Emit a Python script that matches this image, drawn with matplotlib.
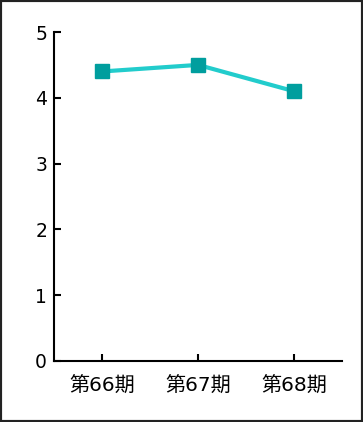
import matplotlib
matplotlib.use('Agg')
import matplotlib.pyplot as plt
from matplotlib.patches import Rectangle

periods = ["第66期", "第67期", "第68期"]
values = [4.4, 4.5, 4.1]
y_ticks = [0, 1, 2, 3, 4, 5]

plt.rcParams['font.family'] = ['DejaVu Sans', 'Noto Sans CJK JP']

fig = plt.figure(figsize=(3.63, 4.22), dpi=100)
ax = fig.add_axes([54/363, 1 - 361/422, 288/363, 329/422])

x = list(range(len(periods)))
ax.plot(x, values, color='#22cccc', linewidth=3, zorder=2)
ax.plot(x, values, linestyle='none', marker='s', markersize=10,
        color='#009e9e', zorder=3)

ax.set_xlim(-0.5, 2.5)
ax.set_ylim(0, 5)
ax.set_xticks(x)
ax.set_xticklabels(periods, fontsize=14.5)
ax.set_yticks(y_ticks)
ax.set_yticklabels([str(t) for t in y_ticks], fontsize=13.5)
ax.tick_params(direction='in', length=5, width=1.5, color='black')
ax.tick_params(axis='x', pad=11)
ax.tick_params(axis='y', pad=5)

for s in ['top', 'right']:
    ax.spines[s].set_visible(False)
for s in ['left', 'bottom']:
    ax.spines[s].set_linewidth(1.5)

fig.patches.append(Rectangle((0, 0), 1, 1, transform=fig.transFigure,
                             fill=False, edgecolor='#222222', linewidth=3))

fig.savefig('out.png', dpi=100)
